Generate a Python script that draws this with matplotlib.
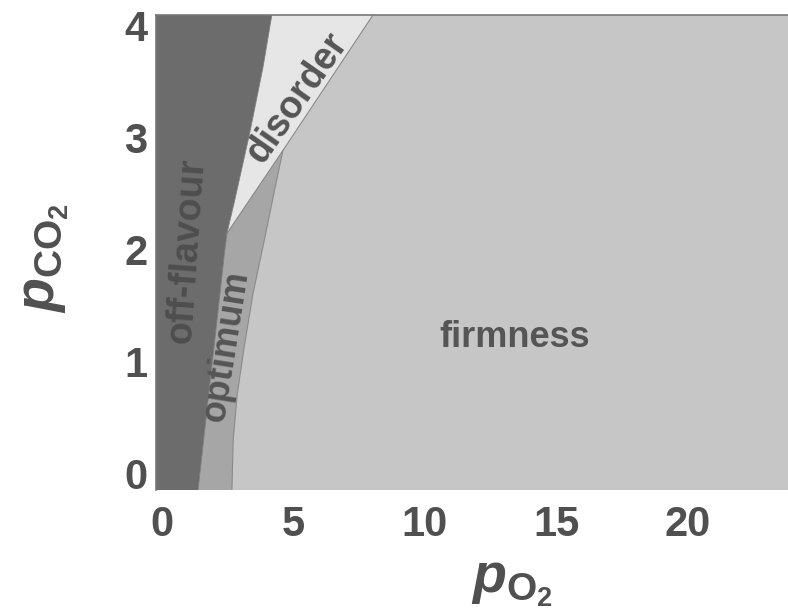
import matplotlib
matplotlib.use("Agg")
import matplotlib.pyplot as plt

plt.rcParams['font.family'] = ['Liberation Sans', 'DejaVu Sans']
plt.rcParams['font.weight'] = 'bold'
plt.rcParams['mathtext.fontset'] = 'custom'
plt.rcParams['mathtext.it'] = 'Liberation Sans:italic:bold'
plt.rcParams['mathtext.rm'] = 'Liberation Sans:bold'
plt.rcParams['mathtext.bf'] = 'Liberation Sans:bold'

# ---- data (pO2 / pCO2 boundaries) ----
offflavour_x = [1.36, 2.38, 2.46, 2.76, 3.33, 3.83, 4.17]
offflavour_y = [-0.15, 1.99, 2.14, 2.44, 3.04, 3.62, 4.09]
disorder_right_x = [2.46, 4.59, 8.02]
disorder_right_y = [2.14, 2.88, 4.09]
optimum_right_x = [2.65, 2.70, 2.85, 3.10, 3.45, 3.90, 4.25, 4.59]
optimum_right_y = [-0.15, 0.30, 0.70, 1.10, 1.60, 2.10, 2.50, 2.88]
xticks = [0, 5, 10, 15, 20]
yticks = [0, 1, 2, 3, 4]
region_names = ['off-flavour', 'disorder', 'optimum', 'firmness']

XMIN, XMAX = -0.24, 23.82
YMIN, YMAX = -0.15, 4.09

c_off = '#6c6c6c'
c_dis = '#e6e6e6'
c_opt = '#a6a6a6'
c_firm = '#c6c6c6'
txt = '#505050'

fig = plt.figure(figsize=(7.88, 6.13), dpi=100)
ax = fig.add_axes([156/788, 123/613, (788-156)/788, (598-123)/613])
ax.set_facecolor(c_firm)

# off-flavour region
off_poly = [(XMIN, YMIN)] + list(zip(offflavour_x, offflavour_y)) + [(XMIN, YMAX)]
ax.fill(*zip(*off_poly), color=c_off, lw=0)

# disorder region
dis_poly = list(zip(offflavour_x[2:], offflavour_y[2:])) + \
    list(zip(disorder_right_x[::-1], disorder_right_y[::-1]))
ax.fill(*zip(*dis_poly), color=c_dis, lw=0)

# optimum region
opt_poly = list(zip(offflavour_x[:3], offflavour_y[:3])) + \
    [(disorder_right_x[1], disorder_right_y[1])] + \
    list(zip(optimum_right_x[::-1], optimum_right_y[::-1]))
ax.fill(*zip(*opt_poly), color=c_opt, lw=0)

# thin boundary lines
ax.plot(disorder_right_x, disorder_right_y, color='#8a8a8a', lw=0.8)
ax.plot(optimum_right_x, optimum_right_y, color='#8a8a8a', lw=0.8)
ax.plot(offflavour_x, offflavour_y, color='#7a7a7a', lw=0.6)

ax.set_xlim(XMIN, XMAX)
ax.set_ylim(YMIN, YMAX)
ax.set_xticks(xticks)
ax.set_yticks(yticks)
ax.set_xticklabels([str(v) for v in xticks])
ax.set_yticklabels([str(v) for v in yticks])
ax.tick_params(axis='both', length=0, labelsize=30, labelcolor=txt)
ax.tick_params(axis='x', pad=11)
ax.tick_params(axis='y', pad=6)
for lab in ax.get_xticklabels() + ax.get_yticklabels():
    lab.set_fontweight('bold')
for s in ['left', 'top']:
    ax.spines[s].set_color('#777777')
    ax.spines[s].set_linewidth(1.2)
ax.spines['right'].set_visible(False)
ax.spines['bottom'].set_visible(False)

# region labels
ax.text(0.94, 1.99, region_names[0], rotation=86, ha='center', va='center',
        fontsize=27, fontweight='bold', color='#4e4e4e', rotation_mode='anchor')
ax.text(5.12, 3.35, region_names[1], rotation=55, ha='center', va='center',
        fontsize=27, fontweight='bold', color='#555555', rotation_mode='anchor')
ax.text(2.42, 1.14, region_names[2], rotation=81, ha='center', va='center',
        fontsize=26, fontweight='bold', color='#555555', rotation_mode='anchor')
ax.text(13.43, 1.21, region_names[3], ha='center', va='center',
        fontsize=26, fontweight='bold', color='#555555')

# axis labels
fig.text(512/788, 1 - 583/613, r'$p_{\mathrm{O}_2}$', ha='center', va='center',
         fontsize=40, color=txt)
fig.text(45/788, 1 - 258/613, r'$p_{\mathrm{CO}_2}$', ha='center', va='center',
         fontsize=40, color=txt, rotation=90)

fig.savefig('out.png', dpi=100)
